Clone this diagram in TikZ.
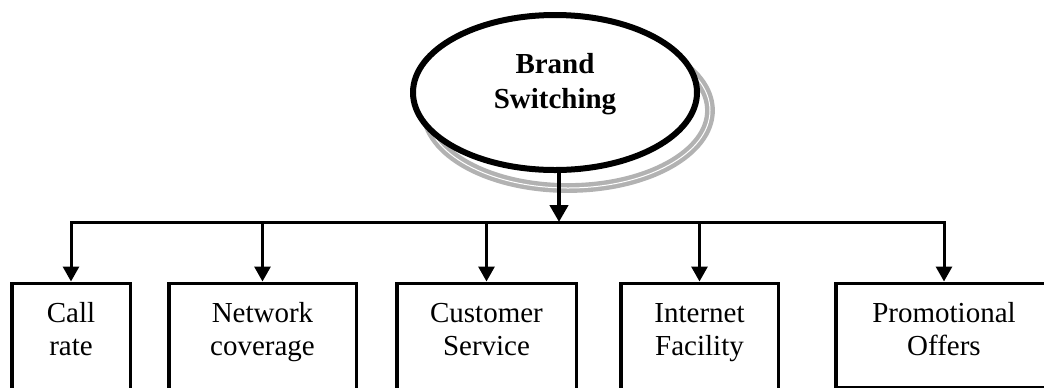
\documentclass[tikz,border=0pt]{standalone}
\usepackage{fontspec}
\setmainfont{Liberation Serif}
\usetikzlibrary{arrows.meta,shapes.geometric}

\tikzset{
  topic/.style={ellipse, draw, line width=3pt, fill=white, minimum width=142pt,
    minimum height=77.5pt, inner sep=0pt, align=center,
    font=\bfseries\fontsize{14.5}{17.5}\selectfont, text height=20pt, text depth=4.5pt},
  topicshade/.style={draw=gray!60, double=white, double distance=0.5pt, line width=2.2pt},
  factor/.style={rectangle, draw, line width=1.75pt, anchor=north, inner sep=0pt,
    align=center, font=\fontsize{14.5}{16.5}\selectfont, text height=36pt, text depth=20pt},
  drop/.style={line width=1.5pt, -{Triangle[length=7.5pt,width=8pt]}},
  stem/.style={line width=2.2pt, -{Triangle[length=8.5pt,width=9pt]}},
}

\begin{document}
\begin{tikzpicture}[x=0.5pt, y=-0.5pt]
  \clip (0,0) rectangle (1044,387);

  % Centre ellipse and its shadow:
  \draw[topicshade] (568,110.5) ellipse (142 and 77.5);
  \node[topic] (brand) at (555,92.5) {Brand\\Switching};

  % Factor boxes:
  \node[factor, minimum width=59.25pt] (call) at (71,281.5) {Call\\rate};
  \node[factor, minimum width=93.75pt] (network) at (262.5,281.5) {Network\\coverage};
  \node[factor, minimum width=89.75pt] (customer) at (486.5,281.5) {Customer\\Service};
  \node[factor, minimum width=78.75pt] (internet) at (699.5,281.5) {Internet\\Facility};
  \node[factor, minimum width=108.25pt, text depth=16pt] (promo) at (944,281.5) {Promotional\\Offers};

  % Stem and bus:
  \coordinate (hub) at (559,222);
  \draw[stem] (brand.south -| hub) -- (hub);
  \draw[drop] (hub) -| (call.north);
  \draw[drop] (hub) -| (promo.north);
  \foreach \n in {network,customer,internet}
    \draw[drop] (hub -| \n.north) -- (\n.north);
\end{tikzpicture}
\end{document}
